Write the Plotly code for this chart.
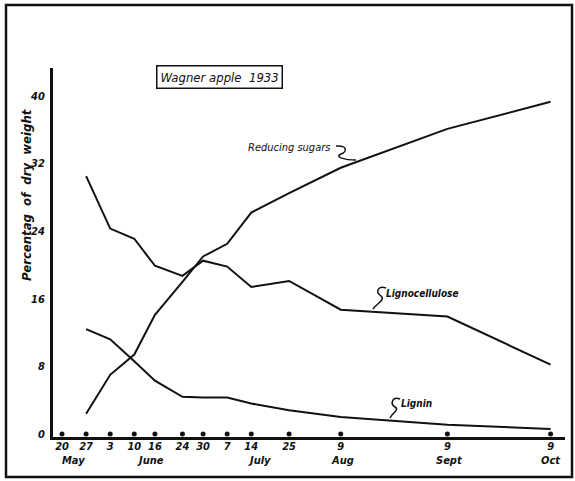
import plotly.graph_objects as go

# Sampling dates, 1933 season
sample_dates = ["1933-05-27", "1933-06-03", "1933-06-10", "1933-06-16", "1933-06-24",
                "1933-06-30", "1933-07-07", "1933-07-14", "1933-07-25", "1933-08-09",
                "1933-09-09", "1933-10-09"]

# Percentage of dry weight
reducing_sugars = [2.4, 7.0, 9.4, 14.1, 18.0, 21.0, 22.5, 26.2, 28.5, 31.5, 36.1, 39.3]
lignocellulose = [30.5, 24.3, 23.1, 19.9, 18.7, 20.5, 19.8, 17.4, 18.1, 14.7, 13.9, 8.2]
lignin = [12.4, 11.2, 8.6, 6.3, 4.4, 4.3, 4.3, 3.6, 2.8, 2.0, 1.1, 0.6]

# Axis ticks
tick_dates = ["1933-05-20"] + sample_dates
tick_days = ["20", "27", "3", "10", "16", "24", "30", "7", "14", "25", "9", "9", "9"]
month_names = ["May", "June", "July", "Aug", "Sept", "Oct"]
month_dates = ["1933-05-23 05:00", "1933-06-14 14:00", "1933-07-16 08:00",
               "1933-08-09 10:00", "1933-09-09 12:00", "1933-10-09"]
y_ticks = [0, 8, 16, 24, 32, 40]

# Plot area in pixels
W_FIG, H_FIG = 575, 481
L, R, T, B = 53, 565, 68, 437


def px(x):
    return (x - L) / (R - L)


def py(y):
    return (B - y) / (B - T)


HAND = "DejaVu Sans Condensed, DejaVu Sans"
ink = "#111111"

fig = go.Figure()

line_style = dict(color=ink, width=2)
fig.add_trace(go.Scatter(x=sample_dates, y=reducing_sugars, mode="lines",
                         line=line_style, name="Reducing sugars"))
fig.add_trace(go.Scatter(x=sample_dates, y=lignocellulose, mode="lines",
                         line=line_style, name="Lignocellulose"))
fig.add_trace(go.Scatter(x=sample_dates, y=lignin, mode="lines",
                         line=line_style, name="Lignin"))
# dots marking the sampling dates on the time axis
fig.add_trace(go.Scatter(x=tick_dates, y=[0] * len(tick_dates), mode="markers",
                         marker=dict(color=ink, size=5), cliponaxis=False,
                         name="dates"))

annotations = []
for m, d in zip(month_names, month_dates):
    annotations.append(dict(x=d, y=py(461), xref="x", yref="paper", text=m,
                            showarrow=False, xanchor="center", yanchor="middle",
                            font=dict(family=HAND, size=11, color=ink,
                                      style="italic", weight="bold")))


def label(x, y, text, size, bold=True, **extra):
    font = dict(family=HAND, size=size, color=ink, style="italic")
    if bold:
        font["weight"] = "bold"
    d = dict(x=px(x), y=py(y), xref="paper", yref="paper", text=text,
             showarrow=False, xanchor="center", yanchor="middle", font=font)
    d.update(extra)
    return d


annotations += [
    label(219, 77, "Wagner apple  1933", 13, bold=False,
          bordercolor=ink, borderwidth=1.5, borderpad=3),
    label(289, 147, "Reducing sugars", 11, bold=False),
    label(422, 293, "Lignocellulose", 10),
    label(416, 403, "Lignin", 10),
    label(26, 195, "Percentag  of  dry  weight", 13, textangle=-90),
]


def path_px(points):
    """Cubic path from pixel control points, expressed in paper units."""
    (x0, y0), rest = points[0], points[1:]
    s = f"M {px(x0)},{py(y0)}"
    for i in range(0, len(rest), 3):
        c = rest[i:i + 3]
        s += " C " + " ".join(f"{px(a)},{py(b)}" for a, b in c)
    return s


squiggles = [
    [(336, 146), (348, 145), (347, 152), (341, 154), (334, 157), (345, 160), (356, 160)],
    [(386, 288), (378, 285), (375, 292), (381, 296), (386, 300), (376, 304), (373, 309)],
    [(400, 399), (392, 396), (390, 404), (395, 407), (400, 410), (392, 413), (390, 418)],
]
shapes = [dict(type="path", xref="paper", yref="paper", path=path_px(p),
               line=dict(color=ink, width=1.5)) for p in squiggles]

# outer frame
shapes.append(dict(type="rect", xref="paper", yref="paper",
                   x0=px(6), x1=px(572), y0=py(5), y1=py(477),
                   line=dict(color=ink, width=2.5)))

fig.update_layout(
    width=W_FIG, height=H_FIG,
    margin=dict(l=L, r=W_FIG - R, t=T, b=H_FIG - B),
    paper_bgcolor="white", plot_bgcolor="white",
    showlegend=False,
    annotations=annotations,
    shapes=shapes,
    xaxis=dict(type="date", range=["1933-05-17 09:00", "1933-10-13 04:30"],
               showgrid=False, zeroline=False, showline=True,
               linecolor=ink, linewidth=3, ticks="",
               tickmode="array", tickvals=tick_dates, ticktext=tick_days,
               ticklabelstandoff=-3,
               tickfont=dict(family=HAND, size=11, color=ink,
                             style="italic", weight="bold")),
    yaxis=dict(range=[-0.36, 43.3], showgrid=False, zeroline=False,
               showline=True, linecolor=ink, linewidth=3, ticks="",
               tickmode="array", tickvals=y_ticks,
               ticklabelstandoff=3,
               tickfont=dict(family=HAND, size=11, color=ink,
                             style="italic", weight="bold")),
)

fig.write_html("out.html")
